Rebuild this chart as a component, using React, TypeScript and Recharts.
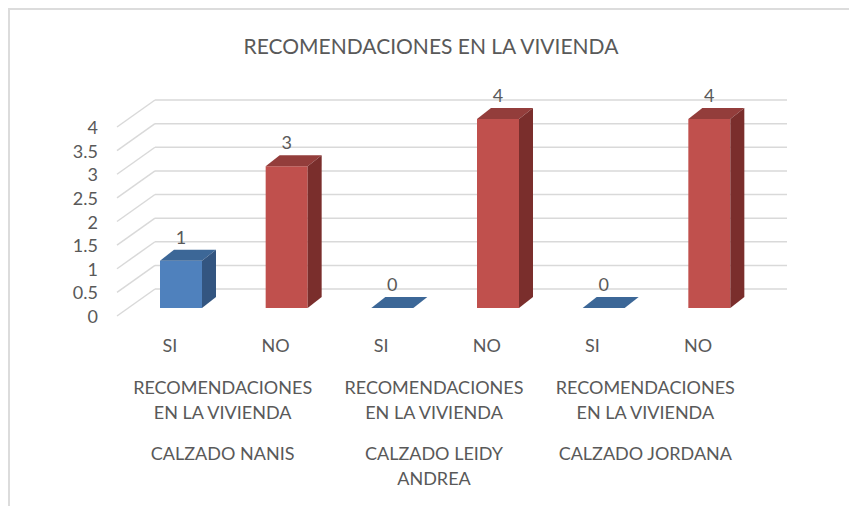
import { BarChart, Bar, XAxis, YAxis, CartesianGrid, Cell, LabelList } from 'recharts';

const answers = ['SI', 'NO', 'SI', 'NO', 'SI', 'NO'];
const counts = [1, 3, 0, 4, 0, 4];
const topicLines = ['RECOMENDACIONES', 'EN LA VIVIENDA'];
const storeLines = [['CALZADO NANIS'], ['CALZADO LEIDY', 'ANDREA'], ['CALZADO JORDANA']];
const yTicks = [0, 0.5, 1, 1.5, 2, 2.5, 3, 3.5, 4];

const data = answers.map((answer, i) => ({ answer, count: counts[i] }));

const W = 849;
const H = 506;
const MARGIN = { top: 119, right: 87, bottom: 48, left: 88 };
const Y_AXIS_W = 40;
const X_AXIS_H = 150;
const PLOT_L = MARGIN.left + Y_AXIS_W;
const PLOT_B = H - MARGIN.bottom - X_AXIS_H;
const BAND = (W - PLOT_L - MARGIN.right) / answers.length;

// 3d offsets
const DX = 14;
const DY = -11;
const FRONT_SHIFT_X = -11;
const FRONT_DROP = 8;
const BACK_SHIFT_X = 27;
const BACK_RISE = 19;

const FONT = 'Lato, "Open Sans", sans-serif';
const FS = 18;
const TEXT = '#595959';
const GRID = '#d9d9d9';

const colors = {
  SI: { front: '#4f81bd', top: '#3c6797', side: '#335580' },
  NO: { front: '#c0504d', top: '#933d3b', side: '#7a2e2c' },
};

function GridLine(props: any) {
  const { x1, x2, y1 } = props;
  const fx = x1 + FRONT_SHIFT_X;
  const bx = x1 + BACK_SHIFT_X;
  return (
    <g>
      <line x1={fx} y1={y1 + FRONT_DROP} x2={bx} y2={y1 - BACK_RISE} stroke={GRID} strokeWidth={1.5} />
      <line x1={bx} y1={y1 - BACK_RISE} x2={x2 + 25} y2={y1 - BACK_RISE} stroke={GRID} strokeWidth={1.5} />
    </g>
  );
}

function Bar3D(props: any) {
  const { x, y, width, height, index } = props;
  const c = colors[answers[index] as 'SI' | 'NO'];
  const top = `${x},${y} ${x + DX},${y + DY} ${x + width + DX},${y + DY} ${x + width},${y}`;
  if (!height || height < 0.5) {
    return <polygon points={top} fill={c.top} />;
  }
  const side = `${x + width},${y} ${x + width + DX},${y + DY} ${x + width + DX},${y + height + DY} ${x + width},${y + height}`;
  return (
    <g>
      <rect x={x} y={y} width={width} height={height} fill={c.front} />
      <polygon points={top} fill={c.top} />
      <polygon points={side} fill={c.side} />
    </g>
  );
}

function YTick(props: any) {
  const { y, payload } = props;
  return (
    <text x={PLOT_L - 30} y={y + FRONT_DROP} textAnchor="end" dominantBaseline="central" fontSize={FS} fill={TEXT} fontFamily={FONT}>
      {payload.value}
    </text>
  );
}

function XTick(props: any) {
  const { x, index } = props;
  const lx = x + FRONT_SHIFT_X;
  const isSecond = index % 2 === 1;
  const gx = x - BAND / 2 + FRONT_SHIFT_X;
  const group = Math.floor(index / 2);
  return (
    <g fontFamily={FONT} fontSize={FS} fill={TEXT} textAnchor="middle">
      <text x={lx} y={PLOT_B + 37} dominantBaseline="central">{answers[index]}</text>
      {isSecond &&
        topicLines.map((t, i) => (
          <text key={t} x={gx} y={PLOT_B + 79 + i * 25} dominantBaseline="central">{t}</text>
        ))}
      {isSecond &&
        storeLines[group].map((t, i) => (
          <text key={t} x={gx} y={PLOT_B + 145 + i * 25} dominantBaseline="central">{t}</text>
        ))}
    </g>
  );
}

export default function App() {
  return (
    <div style={{ position: 'relative', width: W, height: H, background: '#fff', overflow: 'hidden' }}>
      <style>{'body{margin:0}'}</style>
      <div
        style={{
          position: 'absolute',
          left: 8,
          top: 8,
          width: W,
          height: H,
          borderLeft: `2px solid #dcdcdc`,
          borderTop: `2px solid #dcdcdc`,
        }}
      />
      <div style={{ position: 'absolute', left: 0, top: 0 }}>
        <BarChart width={W} height={H} data={data} margin={MARGIN}>
          <text x={431} y={45} textAnchor="middle" dominantBaseline="central" fontSize={21} fill={TEXT} fontFamily={FONT}>
            RECOMENDACIONES EN LA VIVIENDA
          </text>
          <CartesianGrid vertical={false} horizontal={(p: any) => <GridLine key={p.key ?? p.index} {...p} />} />
          <XAxis dataKey="answer" height={X_AXIS_H} axisLine={false} tickLine={false} tick={XTick} interval={0} />
          <YAxis
            domain={[0, 4]}
            ticks={yTicks}
            width={Y_AXIS_W}
            axisLine={false}
            tickLine={false}
            tick={YTick}
            interval={0}
          />
          <Bar dataKey="count" barSize={42} isAnimationActive={false} shape={Bar3D}>
            {data.map((d, i) => (
              <Cell key={i} fill={colors[d.answer as 'SI' | 'NO'].front} />
            ))}
            <LabelList
              dataKey="count"
              content={({ x, y, width, value }: any) => (
                <text
                  x={x + width / 2}
                  y={y - 24}
                  textAnchor="middle"
                  dominantBaseline="central"
                  fontSize={FS}
                  fill={TEXT}
                  fontFamily={FONT}
                >
                  {value}
                </text>
              )}
            />
          </Bar>
        </BarChart>
      </div>
    </div>
  );
}
